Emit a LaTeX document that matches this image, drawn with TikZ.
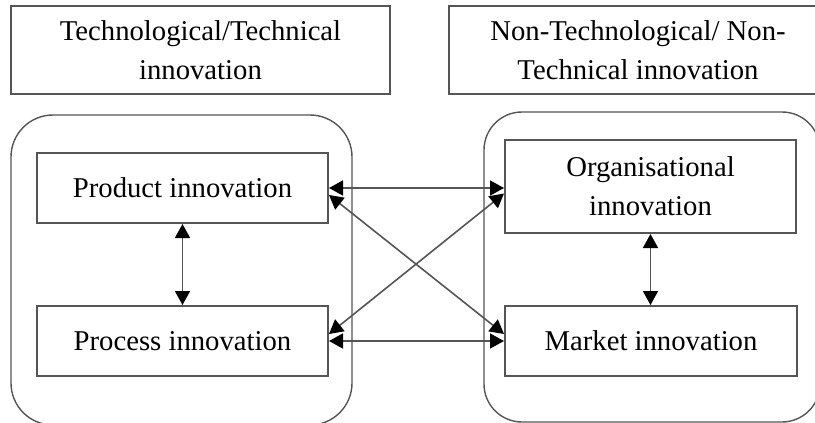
\documentclass[tikz,border=0pt]{standalone}
\usepackage{fontspec}
\setmainfont{Liberation Serif}
\usetikzlibrary{arrows.meta}
\definecolor{boxline}{HTML}{555555}
\begin{document}
\begin{tikzpicture}[x=1pt,y=-1pt,
  box/.style={draw=boxline, line width=2pt, rectangle, inner sep=0pt,
    align=center, font=\fontsize{28.7}{39}\selectfont},
  group/.style={draw=boxline, line width=1.4pt, rectangle, inner sep=0pt},
  link/.style={draw=boxline, line width=1.6pt,
    {Triangle[length=14pt,width=15pt,color=black]}-{Triangle[length=14pt,width=15pt,color=black]}}
]
\useasboundingbox (0,0) rectangle (815,423);
\clip (0,0) rectangle (815,423);

% category headings
\node[box, minimum width=379pt, minimum height=88pt] (techhead) at (200.5,50)
  {Technological/Technical\\innovation};
\node[box, minimum width=378pt, minimum height=88pt] (nontechhead) at (638,50)
  {Non-Technological/ Non-\\Technical innovation};

% rounded groups
\node[group, rounded corners=42pt, minimum width=341pt, minimum height=310pt]
  (techgroup) at (181.5,270) {};
\node[group, rounded corners=38pt, minimum width=336pt, minimum height=310pt]
  (nontechgroup) at (652,267) {};

% innovation types
\node[box, minimum width=291pt, minimum height=70pt] (product) at (182.5,188)
  {Product innovation};
\node[box, minimum width=291pt, minimum height=70pt] (process) at (182.5,341)
  {Process innovation};
\node[box, minimum width=291pt, minimum height=93pt] (org) at (650.5,186.5)
  {Organisational\\innovation};
\node[box, minimum width=292pt, minimum height=70pt] (market) at (651,341)
  {Market innovation};

% links
\draw[link] (product.east) -- (product.east -| org.west);
\draw[link] (process.east) -- (process.east -| market.west);
\draw[link] ([yshift=-7pt]product.east) -- ([yshift=7pt]market.west);
\draw[link] ([yshift=7pt]process.east) -- ([yshift=-7pt]org.west);
\draw[link] (product.south) -- (process.north);
\draw[link] (org.south) -- (org.south |- market.north);
\end{tikzpicture}
\end{document}
